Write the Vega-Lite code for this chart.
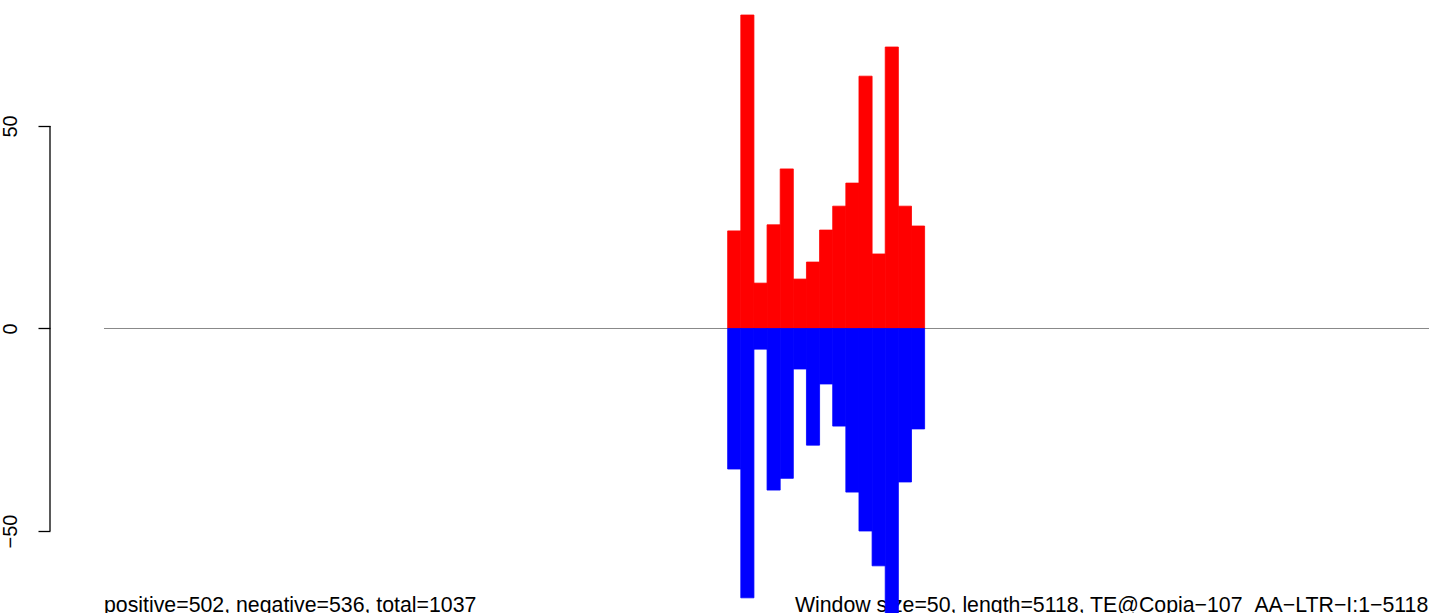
{
  "$schema": "https://vega.github.io/schema/vega-lite/v6.json",
  "width": 1379,
  "height": 613,
  "autosize": {"type": "none"},
  "padding": {"left": 50, "top": 0, "right": 0, "bottom": 0},
  "background": "white",
  "config": {"view": {"stroke": null}, "font": "Liberation Sans"},
  "datasets": {
    "windows": [
      {"start": 2375, "end": 2425, "strand": "positive", "count": 24.1},
      {"start": 2425, "end": 2475, "strand": "positive", "count": 77.4},
      {"start": 2475, "end": 2525, "strand": "positive", "count": 11.2},
      {"start": 2525, "end": 2575, "strand": "positive", "count": 25.6},
      {"start": 2575, "end": 2625, "strand": "positive", "count": 39.4},
      {"start": 2625, "end": 2675, "strand": "positive", "count": 12.2},
      {"start": 2675, "end": 2725, "strand": "positive", "count": 16.4},
      {"start": 2725, "end": 2775, "strand": "positive", "count": 24.3},
      {"start": 2775, "end": 2825, "strand": "positive", "count": 30.2},
      {"start": 2825, "end": 2875, "strand": "positive", "count": 35.9},
      {"start": 2875, "end": 2925, "strand": "positive", "count": 62.3},
      {"start": 2925, "end": 2975, "strand": "positive", "count": 18.4},
      {"start": 2975, "end": 3025, "strand": "positive", "count": 69.5},
      {"start": 3025, "end": 3075, "strand": "positive", "count": 30.2},
      {"start": 3075, "end": 3125, "strand": "positive", "count": 25.3},
      {"start": 2375, "end": 2425, "strand": "negative", "count": -34.7},
      {"start": 2425, "end": 2475, "strand": "negative", "count": -66.5},
      {"start": 2475, "end": 2525, "strand": "negative", "count": -5.1},
      {"start": 2525, "end": 2575, "strand": "negative", "count": -39.9},
      {"start": 2575, "end": 2625, "strand": "negative", "count": -37.0},
      {"start": 2625, "end": 2675, "strand": "negative", "count": -10.0},
      {"start": 2675, "end": 2725, "strand": "negative", "count": -28.8},
      {"start": 2725, "end": 2775, "strand": "negative", "count": -13.7},
      {"start": 2775, "end": 2825, "strand": "negative", "count": -24.1},
      {"start": 2825, "end": 2875, "strand": "negative", "count": -40.4},
      {"start": 2875, "end": 2925, "strand": "negative", "count": -50.0},
      {"start": 2925, "end": 2975, "strand": "negative", "count": -58.6},
      {"start": 2975, "end": 3025, "strand": "negative", "count": -74.0},
      {"start": 3025, "end": 3075, "strand": "negative", "count": -37.9},
      {"start": 3075, "end": 3125, "strand": "negative", "count": -24.8}
    ],
    "baseline": [{"from": 0, "to": 5118, "level": 0}],
    "axisline": [{"pos": -205.6, "lo": -50, "hi": 50}],
    "notes": [
      {"label": "positive=502, negative=536, total=1037", "pos": 0, "level": -69.9},
      {"label": "Window size=50, length=5118, TE@Copia−107_AA−LTR−I:1−5118", "pos": 2631, "level": -69.9}
    ]
  },
  "layer": [
    {
      "data": {"name": "baseline"},
      "mark": {"type": "rule", "color": "#888888", "strokeWidth": 1, "clip": true},
      "encoding": {
        "x": {"field": "from", "type": "quantitative", "scale": {"domain": [-205.6, 5045.7], "nice": false, "zero": false}, "axis": null},
        "x2": {"field": "to"},
        "y": {
          "field": "level", "type": "quantitative",
          "scale": {"domain": [-70.25, 81.11], "nice": false, "zero": false},
          "axis": {
            "values": [-50, 0, 50], "title": null, "domain": false, "grid": false,
            "tickSize": 12, "tickColor": "black", "tickWidth": 1.3,
            "labelAngle": -90, "labelAlign": "center", "labelBaseline": "alphabetic",
            "labelPadding": 22, "labelFontSize": 20, "labelColor": "black", "labelFont": "Liberation Sans"
          }
        }
      }
    },
    {
      "data": {"name": "axisline"},
      "mark": {"type": "rule", "color": "black", "strokeWidth": 1.3},
      "encoding": {
        "x": {"field": "pos", "type": "quantitative"},
        "y": {"field": "lo", "type": "quantitative"},
        "y2": {"field": "hi"}
      }
    },
    {
      "data": {"name": "notes"},
      "mark": {"type": "text", "align": "left", "baseline": "alphabetic", "fontSize": 21.3, "font": "Liberation Sans", "color": "black"},
      "encoding": {
        "x": {"field": "pos", "type": "quantitative"},
        "y": {"field": "level", "type": "quantitative"},
        "text": {"field": "label"}
      }
    },
    {
      "data": {"name": "windows"},
      "mark": {"type": "bar", "clip": true, "strokeWidth": 0.8},
      "encoding": {
        "x": {"field": "start", "type": "quantitative"},
        "x2": {"field": "end"},
        "y": {"field": "count", "type": "quantitative"},
        "y2": {"datum": 0},
        "color": {"field": "strand", "type": "nominal", "scale": {"domain": ["positive", "negative"], "range": ["#ff0000", "#0000ff"]}, "legend": null},
        "stroke": {"field": "strand", "type": "nominal", "scale": {"domain": ["positive", "negative"], "range": ["#ff0000", "#0000ff"]}, "legend": null}
      }
    }
  ]
}
